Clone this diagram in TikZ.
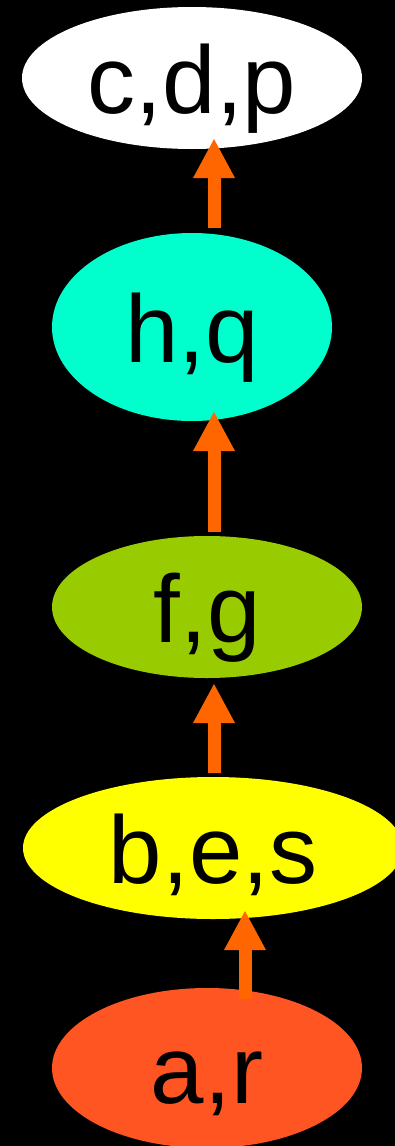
\documentclass[tikz,border=0pt]{standalone}
\usepackage{fontspec}
\setmainfont{Liberation Sans}
\usetikzlibrary{shapes.geometric,arrows.meta}
\definecolor{setCyan}{HTML}{00FFCC}
\definecolor{setGreen}{HTML}{99CC00}
\definecolor{setYellow}{HTML}{FFFF00}
\definecolor{setRed}{HTML}{FF5522}
\definecolor{arrowOrange}{HTML}{FF6600}

\begin{document}
\begin{tikzpicture}[x=1pt, y=-1pt,
    blob/.style={ellipse, inner sep=0pt, font=\fontsize{96}{100}\selectfont,
        text height=84pt, text depth=14pt},
    uparrow/.style={draw=arrowOrange, line width=13pt,
        -{Triangle[length=40pt, width=39pt]}}]
    % Black page, same size as the picture
    \fill[black] (0,0) rectangle (395,1146);
    \useasboundingbox (0,0) rectangle (395,1146);

    % The five sets, from top to bottom
    \node[blob, fill=white, minimum width=340pt, minimum height=142pt] (cdp) at (192,78) {c,d,p};
    \node[blob, fill=setCyan, minimum width=280pt, minimum height=188pt] (hq) at (192,327) {h,q};
    \node[blob, fill=setGreen, minimum width=310pt, minimum height=142pt] (fg) at (207,607) {f,g};
    \node[blob, fill=setYellow, minimum width=380pt, minimum height=142pt] (bes) at (213,848) {b,e,s};
    \node[blob, fill=setRed, minimum width=310pt, minimum height=160pt] (ar) at (207,1068) {a,r};

    % Vertical lines the arrows run along
    \coordinate (axisA) at (214,0);
    \coordinate (axisB) at (245,0);

    % Each set points up to the next one
    \foreach \from/\to/\ax/\s/\e in {hq/cdp/axisA/5/-11, fg/hq/axisA/4/-10,
                                     bes/fg/axisA/4/5, ar/bes/axisB/-11/-9} {
        \draw[uparrow, shorten <=\s pt, shorten >=\e pt]
            (\from.north -| \ax) -- (\to.south -| \ax);
    }
\end{tikzpicture}
\end{document}
